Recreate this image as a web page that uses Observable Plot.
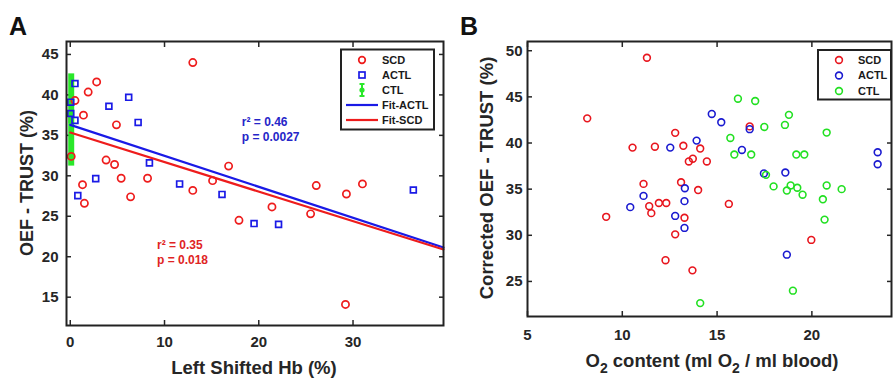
<!DOCTYPE html>
<html><head><meta charset="utf-8">
<script src="https://cdn.jsdelivr.net/npm/d3@7"></script>
<script src="https://cdn.jsdelivr.net/npm/@observablehq/plot@0.6"></script>
<style>
body{margin:0;background:#fff;}
#wrap{display:flex;width:893px;height:379px;overflow:hidden;}
</style></head><body><div id="wrap"></div>
<script>
// ---------- Panel A data ----------
const scdA_x = [13.0, 2.8, 1.9, 0.5, 1.4, 4.9, 0.1, 3.8, 4.7, 5.4, 8.2, 1.3, 1.5, 6.4, 13.0, 15.1, 16.8, 17.9, 21.4, 25.5, 26.1, 29.3, 31.0, 29.2];
const scdA_y = [44.0, 41.6, 40.35, 39.3, 37.5, 36.3, 32.4, 31.95, 31.4, 29.7, 29.7, 28.9, 26.6, 27.4, 28.2, 29.4, 31.2, 24.5, 26.15, 25.3, 28.8, 27.75, 29.0, 14.1];
const actlA_x = [0.5, 0.05, 0.05, 0.5, 4.1, 6.2, 7.2, 8.4, 2.7, 0.8, 11.6, 16.1, 19.5, 22.1, 36.4];
const actlA_y = [41.4, 39.1, 37.7, 36.85, 38.6, 39.7, 36.6, 31.6, 29.65, 27.55, 29.0, 27.7, 24.1, 24.0, 28.25];
const ctlA_x = [0.1];
const ctlA_mean = [36.9];
const ctlA_sd = [5.7];
const fitNames = ["Fit-ACTL", "Fit-SCD"];
const fitIntercept = [36.3, 35.35];
const fitSlope = [-0.383, -0.365];
const fitXRange = [0, 39.6];
const fitR2 = ["0.46", "0.35"];
const fitP = ["0.0027", "0.018"];
const legendA = ["SCD", "ACTL", "CTL", "Fit-ACTL", "Fit-SCD"];
const xTicksA = [0, 10, 20, 30];
const yTicksA = [15, 20, 25, 30, 35, 40, 45];

// ---------- Panel B data ----------
const scdB_x = [11.3, 8.15, 12.79, 10.54, 11.72, 13.22, 14.11, 13.51, 13.72, 14.46, 11.12, 13.1, 14.0, 11.42, 11.53, 11.93, 12.32, 13.28, 9.15, 12.79, 12.28, 13.7, 15.62, 16.72, 19.97];
const scdB_y = [49.24, 42.67, 41.1, 39.5, 39.6, 39.7, 39.4, 38.0, 38.3, 38.0, 35.57, 35.75, 34.9, 33.15, 32.4, 33.5, 33.5, 31.9, 32.0, 30.1, 27.3, 26.2, 33.4, 41.8, 29.5];
const actlB_x = [13.92, 12.53, 11.12, 10.42, 13.3, 13.28, 12.79, 13.28, 14.72, 15.22, 16.72, 16.31, 17.47, 18.6, 18.68, 23.47, 23.47];
const actlB_y = [40.26, 39.5, 34.27, 33.05, 35.1, 33.7, 32.1, 30.8, 43.15, 42.25, 41.5, 39.25, 36.7, 36.8, 27.9, 39.0, 37.7];
const ctlB_x = [14.11, 16.1, 17.01, 18.79, 18.58, 17.49, 20.78, 15.7, 15.91, 16.8, 19.18, 19.6, 17.58, 17.98, 18.68, 18.88, 19.23, 19.51, 20.78, 20.58, 21.57, 20.67, 19.0];
const ctlB_y = [22.65, 44.8, 44.55, 43.05, 41.96, 41.74, 41.13, 40.55, 38.75, 38.75, 38.75, 38.75, 36.55, 35.3, 34.85, 35.4, 35.15, 34.4, 35.4, 33.9, 35.0, 31.7, 24.0];
const legendB = ["SCD", "ACTL", "CTL"];
const xTicksB = [5, 10, 15, 20];
const yTicksB = [25, 30, 35, 40, 45, 50];

const FONT = '"Liberation Sans", Arial, Helvetica, sans-serif';
const INK = "#262626";
const redA = "#ee1c1c", blueA = "#1a1ae6", green = "#2ae82a";
const redB = "#e8161e", blueB = "#1a1ad0", greenB = "#22e022";

const pts = (xs, ys) => xs.map((x, i) => ({x, y: ys[i]}));

function boxAxes(xt, yt, padX, padY) {
  return [
    Plot.axisY({ticks: yt, tickSize: 0, tickPadding: padY, fontSize: 15, fontWeight: "bold", label: null}),
    Plot.axisX({ticks: xt, tickSize: 0, tickPadding: padX, fontSize: 15, fontWeight: "bold", label: null}),
    Plot.axisY({ticks: yt, tickSize: -5, text: null, label: null, strokeWidth: 1.5}),
    Plot.axisY({ticks: yt, anchor: "right", tickSize: -5, text: null, label: null, strokeWidth: 1.5}),
    Plot.axisX({ticks: xt, tickSize: -5, text: null, label: null, strokeWidth: 1.5}),
    Plot.axisX({ticks: xt, anchor: "top", tickSize: -5, text: null, label: null, strokeWidth: 1.5})
  ];
}

// ---------- Panel A ----------
const fitLines = fitNames.map((n, i) => fitXRange.map(x => ({x, y: fitIntercept[i] + fitSlope[i] * x, name: n})));
const ctlA = ctlA_x.map((x, i) => ({x, m: ctlA_mean[i], s: ctlA_sd[i]}));

const svgA = Plot.plot({
  width: 446, height: 379,
  marginLeft: 66, marginRight: 3, marginTop: 41, marginBottom: 54,
  x: {domain: [-0.4, 39.6]},
  y: {domain: [11.5, 46.6]},
  style: {fontFamily: FONT, color: INK, background: "white", overflow: "visible"},
  marks: [
    ...boxAxes(xTicksA, yTicksA, 11, 8),
    Plot.ruleX(ctlA, {x: "x", y1: d => d.m - d.s, y2: d => d.m + d.s, stroke: green, strokeWidth: 6}),
    Plot.dot(ctlA, {x: "x", y: "m", symbol: "square", r: 3.2, fill: green}),
    Plot.dot(pts(scdA_x, scdA_y), {x: "x", y: "y", r: 3.6, stroke: redA, strokeWidth: 1.7, fill: "none"}),
    Plot.dot(pts(actlA_x, actlA_y), {x: "x", y: "y", symbol: "square", r: 3.3, stroke: blueA, strokeWidth: 1.7, fill: "none"}),
    Plot.line(fitLines[0], {x: "x", y: "y", stroke: blueA, strokeWidth: 2.2}),
    Plot.line(fitLines[1], {x: "x", y: "y", stroke: redA, strokeWidth: 2.2}),
    Plot.text([`r\u00b2 = ${fitR2[0]}`, `p = ${fitP[0]}`], {x: 18.2, y: (d, i) => [36.6, 34.75][i], text: d => d, textAnchor: "start", fill: "#2525c8", fontSize: 12, fontWeight: "bold"}),
    Plot.text([`r\u00b2 = ${fitR2[1]}`, `p = ${fitP[1]}`], {x: 9.2, y: (d, i) => [21.4, 19.55][i], text: d => d, textAnchor: "start", fill: "#e02424", fontSize: 12, fontWeight: "bold"}),
    Plot.frame({stroke: "#222", strokeWidth: 2})
  ]
});

// ---------- Panel B ----------
const svgB = Plot.plot({
  width: 447, height: 379,
  marginLeft: 81, marginRight: 2, marginTop: 41, marginBottom: 63,
  x: {domain: [5, 24.2]},
  y: {domain: [21.2, 51]},
  style: {fontFamily: FONT, color: INK, background: "white", overflow: "visible"},
  marks: [
    ...boxAxes(xTicksB, yTicksB, 13, 5),
    Plot.dot(pts(scdB_x, scdB_y), {x: "x", y: "y", r: 3.4, stroke: redB, strokeWidth: 1.6, fill: "none"}),
    Plot.dot(pts(actlB_x, actlB_y), {x: "x", y: "y", r: 3.4, stroke: blueB, strokeWidth: 1.6, fill: "none"}),
    Plot.dot(pts(ctlB_x, ctlB_y), {x: "x", y: "y", r: 3.4, stroke: greenB, strokeWidth: 1.6, fill: "none"}),
    Plot.frame({stroke: "#222", strokeWidth: 2})
  ]
});

const wrap = document.getElementById("wrap");
wrap.appendChild(svgA);
wrap.appendChild(svgB);

// ---------- annotations: labels & legends ----------
function addText(svg, x, y, str, size, opts = {}) {
  const t = d3.select(svg).append("text")
    .attr("x", x).attr("y", y)
    .attr("font-family", FONT).attr("font-size", size).attr("font-weight", "bold")
    .attr("fill", opts.fill || INK)
    .attr("text-anchor", opts.anchor || "middle")
    .text(str);
  if (opts.rotate) t.attr("transform", `rotate(-90 ${x} ${y})`);
  return t;
}

// Panel A labels
addText(svgA, 9, 35, "A", 25, {anchor: "start", fill: "#111"});
addText(svgA, 32.5, 183, "OEF - TRUST (%)", 18, {rotate: true});
addText(svgA, 254, 374, "Left Shifted Hb (%)", 18.5);

// Panel B labels
addText(svgB, 14, 35, "B", 25, {anchor: "start", fill: "#111"});
addText(svgB, 46.5, 178, "Corrected OEF - TRUST (%)", 18.5, {rotate: true});
{
  const t = d3.select(svgB).append("text")
    .attr("x", 266).attr("y", 367)
    .attr("font-family", FONT).attr("font-size", 18.5).attr("font-weight", "bold")
    .attr("fill", INK).attr("text-anchor", "middle");
  t.append("tspan").text("O");
  t.append("tspan").attr("font-size", 14).attr("dy", 6).text("2");
  t.append("tspan").attr("dy", -6).text(" content (ml O");
  t.append("tspan").attr("font-size", 14).attr("dy", 6).text("2");
  t.append("tspan").attr("dy", -6).text(" / ml blood)");
}

// Legend A
{
  const g = d3.select(svgA).append("g").attr("text-anchor", "start");
  g.append("rect").attr("x", 341).attr("y", 49.5).attr("width", 93).attr("height", 80)
    .attr("fill", "white").attr("stroke", "#222").attr("stroke-width", 2);
  const rows = [60, 75, 90, 105, 120];
  const sx = 362;
  g.append("circle").attr("cx", sx).attr("cy", rows[0]).attr("r", 3.3).attr("fill", "none").attr("stroke", redA).attr("stroke-width", 1.7);
  g.append("rect").attr("x", sx - 3).attr("y", rows[1] - 3).attr("width", 6).attr("height", 6).attr("fill", "none").attr("stroke", blueA).attr("stroke-width", 1.7);
  g.append("line").attr("x1", sx).attr("x2", sx).attr("y1", rows[2] - 6).attr("y2", rows[2] + 6).attr("stroke", green).attr("stroke-width", 2);
  g.append("line").attr("x1", sx - 2.5).attr("x2", sx + 2.5).attr("y1", rows[2] - 6).attr("y2", rows[2] - 6).attr("stroke", green).attr("stroke-width", 2);
  g.append("line").attr("x1", sx - 2.5).attr("x2", sx + 2.5).attr("y1", rows[2] + 6).attr("y2", rows[2] + 6).attr("stroke", green).attr("stroke-width", 2);
  g.append("circle").attr("cx", sx).attr("cy", rows[2]).attr("r", 2.6).attr("fill", green);
  g.append("line").attr("x1", 346).attr("x2", 378).attr("y1", rows[3]).attr("y2", rows[3]).attr("stroke", blueA).attr("stroke-width", 2.2);
  g.append("line").attr("x1", 346).attr("x2", 378).attr("y1", rows[4]).attr("y2", rows[4]).attr("stroke", redA).attr("stroke-width", 2.2);
  legendA.forEach((s, i) => {
    g.append("text").attr("x", 382).attr("y", rows[i]).attr("dy", "0.36em").attr("text-anchor", "start")
      .attr("font-family", FONT).attr("font-size", 11).attr("font-weight", "bold").attr("fill", "#1a1a1a").text(s);
  });
}

// Legend B
{
  const g = d3.select(svgB).append("g").attr("text-anchor", "start");
  g.append("rect").attr("x", 372).attr("y", 50).attr("width", 73).attr("height", 49.5)
    .attr("fill", "white").attr("stroke", "#222").attr("stroke-width", 2);
  const rows = [60, 75.5, 91];
  const cols = [redB, blueB, greenB];
  legendB.forEach((s, i) => {
    g.append("circle").attr("cx", 393).attr("cy", rows[i]).attr("r", 3.4).attr("fill", "none").attr("stroke", cols[i]).attr("stroke-width", 1.6);
    g.append("text").attr("x", 412).attr("y", rows[i]).attr("dy", "0.36em").attr("text-anchor", "start")
      .attr("font-family", FONT).attr("font-size", 11).attr("font-weight", "bold").attr("fill", "#1a1a1a").text(s);
  });
}
</script>
</body></html>
